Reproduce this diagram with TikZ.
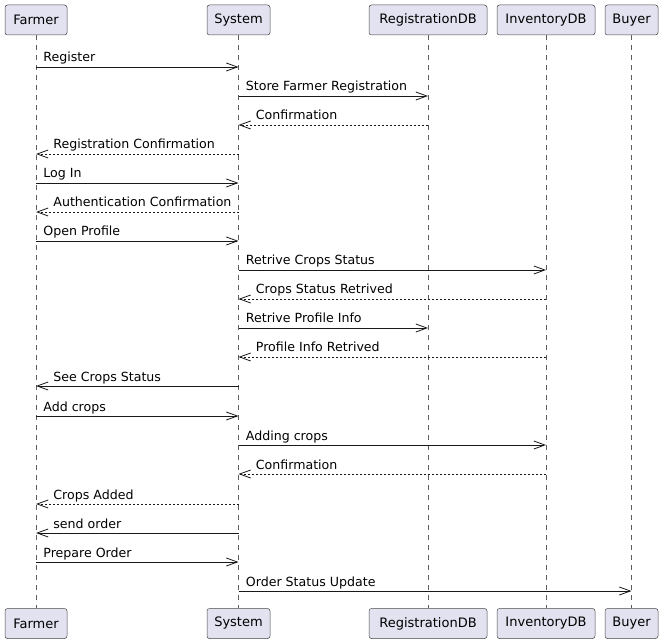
\documentclass[tikz,border=0pt]{standalone}
\usepackage{fontspec}
\setmainfont{DejaVu Sans}
\usetikzlibrary{arrows.meta}
\definecolor{boxfill}{HTML}{E2E2F0}
\definecolor{ink}{HTML}{181818}
\tikzset{
  actor/.style = {draw = ink!80, fill = boxfill, rounded corners = 2.5pt, line width = 0.5pt,
                  minimum height = 30pt, inner sep = 0pt,
                  font = \fontsize{13pt}{15pt}\selectfont},
  lifeline/.style = {draw = ink!70, line width = 0.5pt, dash pattern = on 5pt off 5pt},
  msg/.style = {draw = ink, line width = 0.8pt, -{Straight Barb[length = 11pt, width = 8pt]}},
  reply/.style = {msg, dash pattern = on 2pt off 2pt},
  rlabel/.style = {anchor = base west, inner sep = 0pt, at start, xshift = 7pt, yshift = 5pt,
                   font = \fontsize{12.6pt}{15pt}\selectfont},
  llabel/.style = {rlabel, at end, xshift = 10pt}
}
\begin{document}
\begin{tikzpicture}[x = 1pt, y = -1pt]
                \useasboundingbox (0,0) rectangle (664,644);
                % participants, top and bottom
                \node[actor, minimum width = 62pt] (farmerTop) at (36,20) {Farmer};
                \node[actor, minimum width = 63pt] (systemTop) at (238.5,20) {System};
                \node[actor, minimum width = 118pt] (regTop) at (428,20) {RegistrationDB};
                \node[actor, minimum width = 98pt] (invTop) at (546,20) {InventoryDB};
                \node[actor, minimum width = 53pt] (buyerTop) at (631.5,20) {Buyer};
                \node[actor, minimum width = 62pt] (farmerBot) at (36,623.5) {Farmer};
                \node[actor, minimum width = 63pt] (systemBot) at (238.5,623.5) {System};
                \node[actor, minimum width = 118pt] (regBot) at (428,623.5) {RegistrationDB};
                \node[actor, minimum width = 98pt] (invBot) at (546,623.5) {InventoryDB};
                \node[actor, minimum width = 53pt] (buyerBot) at (631.5,623.5) {Buyer};

                % lifelines
                \draw[lifeline] (farmerTop) -- (farmerBot);
                \draw[lifeline] (systemTop) -- (systemBot);
                \draw[lifeline] (regTop) -- (regBot);
                \draw[lifeline] (invTop) -- (invBot);
                \draw[lifeline] (buyerTop) -- (buyerBot);

                % messages
                \draw[msg] (farmerTop |- 0,67) -- node[rlabel] {Register} (systemTop |- 0,67);
                \draw[msg] (systemTop |- 0,96) -- node[rlabel] {Store Farmer Registration} (regTop |- 0,96);
                \draw[reply] (regTop |- 0,125) -- node[llabel] {Confirmation} (systemTop |- 0,125);
                \draw[reply] (systemTop |- 0,154) -- node[llabel] {Registration Confirmation} (farmerTop |- 0,154);
                \draw[msg] (farmerTop |- 0,183) -- node[rlabel] {Log In} (systemTop |- 0,183);
                \draw[reply] (systemTop |- 0,212) -- node[llabel] {Authentication Confirmation} (farmerTop |- 0,212);
                \draw[msg] (farmerTop |- 0,241) -- node[rlabel] {Open Profile} (systemTop |- 0,241);
                \draw[msg] (systemTop |- 0,270) -- node[rlabel] {Retrive Crops Status} (invTop |- 0,270);
                \draw[reply] (invTop |- 0,299) -- node[llabel] {Crops Status Retrived} (systemTop |- 0,299);
                \draw[msg] (systemTop |- 0,328) -- node[rlabel] {Retrive Profile Info} (regTop |- 0,328);
                \draw[reply] (invTop |- 0,357) -- node[llabel] {Profile Info Retrived} (systemTop |- 0,357);
                \draw[msg] (systemTop |- 0,386) -- node[llabel] {See Crops Status} (farmerTop |- 0,386);
                \draw[msg] (farmerTop |- 0,416) -- node[rlabel] {Add crops} (systemTop |- 0,416);
                \draw[msg] (systemTop |- 0,445) -- node[rlabel] {Adding crops} (invTop |- 0,445);
                \draw[reply] (invTop |- 0,474) -- node[llabel] {Confirmation} (systemTop |- 0,474);
                \draw[reply] (systemTop |- 0,504) -- node[llabel] {Crops Added} (farmerTop |- 0,504);
                \draw[msg] (systemTop |- 0,533) -- node[llabel] {send order} (farmerTop |- 0,533);
                \draw[msg] (farmerTop |- 0,562) -- node[rlabel] {Prepare Order} (systemTop |- 0,562);
                \draw[msg] (systemTop |- 0,591) -- node[rlabel] {Order Status Update} (buyerTop |- 0,591);
            \end{tikzpicture}
\end{document}
